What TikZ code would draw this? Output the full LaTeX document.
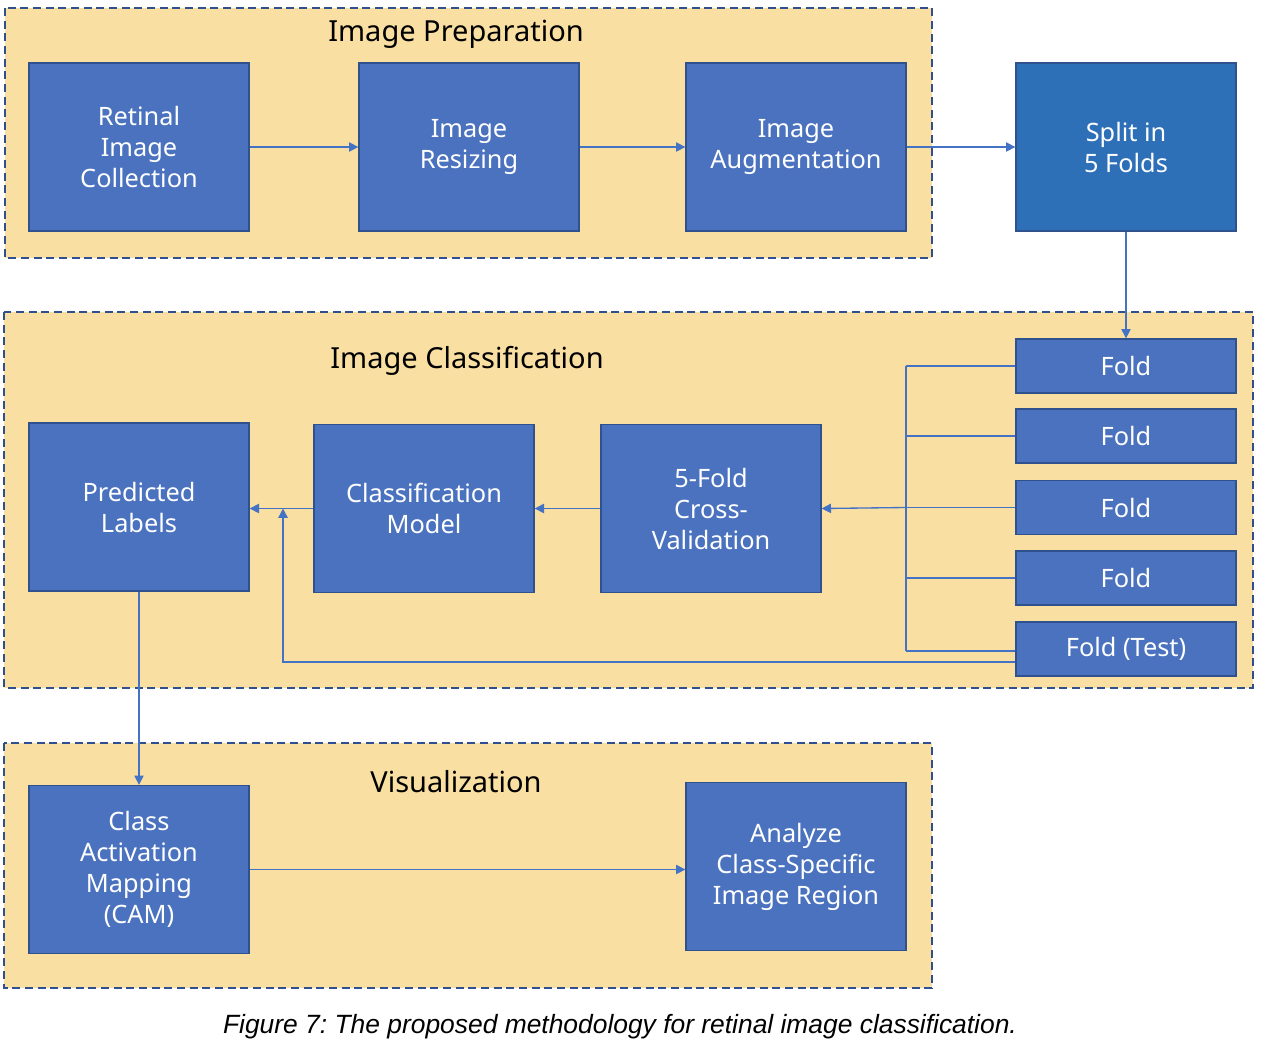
\documentclass[tikz,border=0pt]{standalone}
\usepackage{fontspec}
\setmainfont{Noto Sans}
\newfontfamily\captionfont{Liberation Sans}
\usetikzlibrary{arrows.meta,positioning}
\frenchspacing
\definecolor{RegionFill}{HTML}{F9DFA1}
\definecolor{RegionLine}{HTML}{2F4F8F}
\definecolor{BoxFill}{HTML}{4A72BE}
\definecolor{SplitFill}{HTML}{2E70B8}
\definecolor{BoxLine}{HTML}{2F528F}
\definecolor{LinkBlue}{HTML}{4472C4}
\tikzset{
  region/.style={draw=RegionLine, fill=RegionFill, line width=1.1pt, dash pattern=on 6pt off 3.5pt},
  regiontitle/.style={black, font=\fontsize{21.75}{26}\selectfont},
  stage/.style={draw=BoxLine, fill=BoxFill, text=white, line width=1pt, inner sep=0pt,
    minimum width=165pt, minimum height=126pt, align=center,
    font=\fontsize{19}{23.25}\selectfont},
  foldbox/.style={stage, minimum height=40.5pt},
  link/.style={draw=LinkBlue, line width=1pt, -{Triangle[length=7pt,width=7pt]}},
  wire/.style={draw=LinkBlue, line width=1pt}
}
\begin{document}
\begin{tikzpicture}[x=0.75pt, y=-0.75pt]
  \useasboundingbox (0,0) rectangle (1262,1052);
  % regions
  \draw[region] (5,8) rectangle (932,258);
  \draw[region] (4,312) rectangle (1253,688);
  \draw[region] (4,743) rectangle (932,988);
  \node[regiontitle] (prepTitle) at (456,34) {Image Preparation};
  \node[regiontitle] (classTitle) at (467,361) {Image Classification};
  \node[regiontitle] (visTitle) at (456,782) {Visualization};
  % image preparation
  \node[stage] (collect) at (139,147) {Retinal\\Image\\Collection};
  \node[stage] (resize) at (469,147) {Image\\Resizing};
  \node[stage] (augment) at (796,147) {Image\\Augmentation};
  \node[stage, fill=SplitFill] (split) at (1126,147) {Split in\\5 Folds};
  % folds
  \node[foldbox] (fold1) at (1126,366) {Fold};
  \node[foldbox] (fold2) at (1126,436) {Fold};
  \node[foldbox] (fold3) at (1126,507.5) {Fold};
  \node[foldbox] (fold4) at (1126,578) {Fold};
  \node[foldbox] (fold5) at (1126,649) {Fold (Test)};
  % classification
  \node[stage] (predict) at (139,507) {Predicted\\Labels};
  \node[stage] (model) at (424,508.5) {Classification\\Model};
  \node[stage] (crossval) at (711,508.5) {5-Fold\\Cross-\\Validation};
  % visualization
  \node[stage] (cam) at (139,869.5) {Class\\Activation\\Mapping\\(CAM)};
  \node[stage] (analyze) at (796,866.5) {Analyze\\Class-Specific\\Image Region};
  % connectors
  \draw[link] (collect) -- (resize);
  \draw[link] (resize) -- (augment);
  \draw[link] (augment) -- (split);
  \draw[link] (split) -- (fold1);
  \coordinate (busTop) at (906,366);
  \coordinate (busBot) at (906,651);
  \draw[wire] (busTop) -- (busBot);
  \draw[wire] (busTop) -- (fold1.west);
  \draw[wire] (906,436) -- (fold2.west);
  \draw[wire] (906,507.5) -- (fold3.west);
  \draw[wire] (906,578) -- (fold4.west);
  \draw[wire] (busBot) -- (fold5.west |- busBot);
  \draw[link] (906,507.5) -- (crossval.east);
  \draw[link] (crossval) -- (model);
  \draw[link] (model.west) -- (predict.east |- model.west);
  \coordinate (testTurn) at (283,662);
  \draw[link] (fold5.west |- testTurn) -- (testTurn) -- (283,508.5);
  \draw[link] (predict) -- (cam);
  \draw[link] (cam) -- (analyze.west |- cam);
  % caption
  \node[font=\captionfont\itshape\fontsize{19.8}{24}\selectfont] (caption) at (620,1027)
    {Figure 7: The proposed methodology for retinal image classification.};
\end{tikzpicture}
\end{document}
